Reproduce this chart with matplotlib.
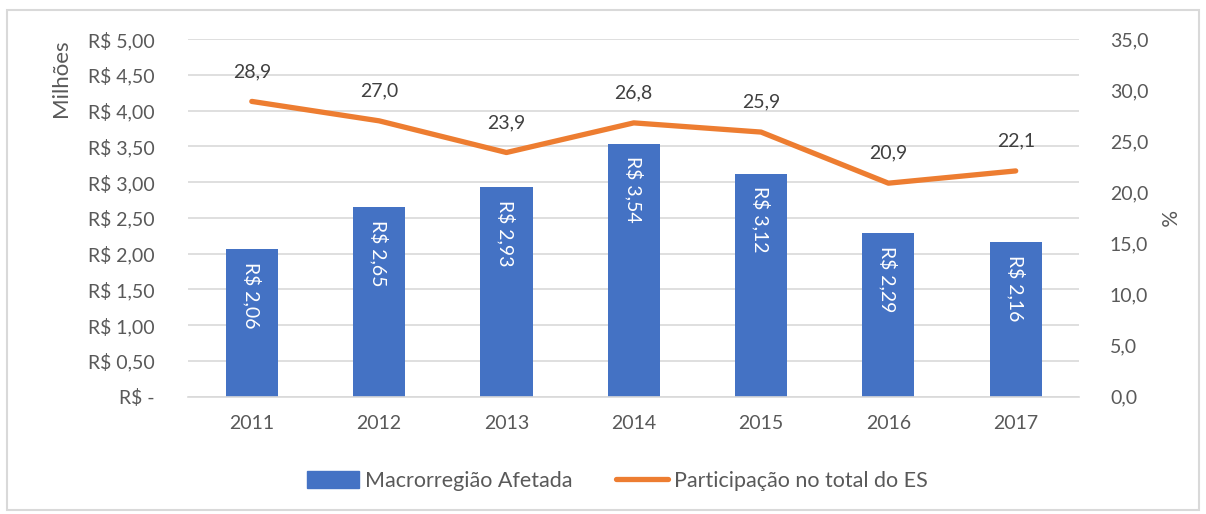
import matplotlib.pyplot as plt
from matplotlib.patches import Rectangle
from matplotlib.lines import Line2D

# data
anos = ['2011', '2012', '2013', '2014', '2015', '2016', '2017']
valores = [2.06, 2.65, 2.93, 3.54, 3.12, 2.29, 2.16]
participacao = [28.9, 27.0, 23.9, 26.8, 25.9, 20.9, 22.1]

azul = '#4472C4'
laranja = '#ED7D31'
cinza = '#595959'

plt.rcParams['font.family'] = ['Lato', 'DejaVu Sans']

fig = plt.figure(figsize=(12.06, 5.14), dpi=100)
ax = fig.add_axes([0.156, 0.228, 0.739, 0.696])
ax2 = ax.twinx()

x = list(range(len(anos)))
ax.bar(x, valores, width=0.41, color=azul, zorder=2)
ax.set_xlim(-0.5, len(anos) - 0.5)
ax.set_ylim(0, 5)
ax.set_yticks([i * 0.5 for i in range(11)])
ax.set_yticklabels(['R$ -'] + ['R$ %s' % ('%.2f' % (i * 0.5)).replace('.', ',') for i in range(1, 11)])
ax.set_xticks(x)
ax.set_xticklabels(anos)
ax.grid(axis='y', color='#D9D9D9', linewidth=1.2, zorder=0)
ax.set_axisbelow(True)
for s in ['top', 'right', 'left']:
    ax.spines[s].set_visible(False)
ax.spines['bottom'].set_color('#D9D9D9')
ax.spines['bottom'].set_linewidth(1.2)
ax.tick_params(axis='both', length=0, colors=cinza, labelsize=14)
ax.tick_params(axis='x', pad=13)
ax.tick_params(axis='y', pad=24)
ax.set_ylabel('Milhões', fontsize=16, color=cinza, labelpad=12, loc='top')

for xi, v in zip(x, valores):
    ax.text(xi, v - 0.18, 'R$ ' + ('%.2f' % v).replace('.', ','), rotation=270,
            ha='center', va='top', color='white', fontsize=14, zorder=3)

ax2.plot(x, participacao, color=laranja, linewidth=3.8, solid_capstyle='round', zorder=3)
ax2.set_ylim(0, 35)
ax2.set_yticks([i * 5 for i in range(8)])
ax2.set_yticklabels([('%.1f' % (i * 5)).replace('.', ',') for i in range(8)])
for s in ['top', 'right', 'left', 'bottom']:
    ax2.spines[s].set_visible(False)
ax2.tick_params(axis='y', length=0, colors=cinza, labelsize=14, pad=22)
ax2.set_ylabel('%', fontsize=15, color=cinza, rotation=270, labelpad=20)

for xi, p in zip(x, participacao):
    ax2.text(xi, p + 2.1, ('%.1f' % p).replace('.', ','), ha='center', va='bottom',
             color='#404040', fontsize=14)

handles = [Rectangle((0, 0), 1, 1, color=azul),
           Line2D([0], [0], color=laranja, linewidth=3.8, solid_capstyle='round')]
fig.legend(handles, ['Macrorregião Afetada', 'Participação no total do ES'],
           loc='center', bbox_to_anchor=(0.512, 0.064), ncol=2, frameon=False,
           fontsize=15.5, labelcolor=cinza, handlelength=2.4, handleheight=0.85,
           columnspacing=2.0, handletextpad=0.3)

fig.add_artist(Rectangle((7 / 1206, 4 / 514), 1192 / 1206, 500 / 514,
                         transform=fig.transFigure, fill=False,
                         edgecolor='#D9D9D9', linewidth=1.5))

fig.savefig('out.png', dpi=100)
